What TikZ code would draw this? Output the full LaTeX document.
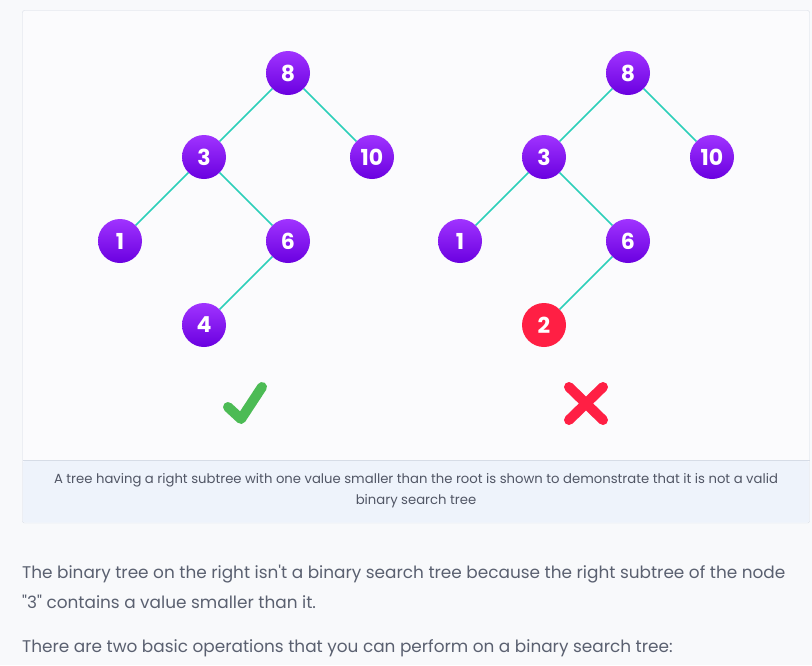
\documentclass[tikz,border=0pt]{standalone}
\usepackage{fontspec}
\setmainfont{Poppins}
\newfontfamily\captfont{Poppins}
\usepackage{xcolor}
\definecolor{pagebg}{HTML}{F8F9FB}
\definecolor{framebd}{HTML}{D6DCE6}
\definecolor{captbg}{HTML}{EEF3FB}
\definecolor{edgecol}{HTML}{2CCFB9}
\definecolor{violettop}{HTML}{A033FF}
\definecolor{violetbot}{HTML}{6A00E0}
\definecolor{badred}{HTML}{FF1F44}
\definecolor{okgreen}{HTML}{4CBB55}
\definecolor{textgray}{HTML}{5A6070}
\tikzset{
  key/.style={circle, minimum size=44pt, inner sep=0pt, text=white,
    top color=violettop, bottom color=violetbot, font=\fontsize{22}{22}\selectfont\bfseries},
  badkey/.style={circle, minimum size=44pt, inner sep=0pt, text=white,
    fill=badred, font=\fontsize{22}{22}\selectfont\bfseries},
  link/.style={edgecol, line width=1.6pt},
  signstroke/.style={line width=10pt, line cap=round, line join=round}
}

\begin{document}
\begin{tikzpicture}[x=1pt, y=-1pt]
\useasboundingbox[fill=pagebg] (0,0) rectangle (812,665);
% frame and caption
\draw[framebd, fill=pagebg!60!white, rounded corners=2pt] (22.5,10.5) rectangle (809.5,523);
\fill[captbg, rounded corners=2pt] (23,461) rectangle (809,522.5);
\draw[framebd] (22.5,460.5) -- (809.5,460.5);
%\draw[step=10, very thin, red!20] (0,0) grid (812,665);
% valid tree
    \node[key] (l8)  at (288,73)  {8};
    \node[key] (l3)  at (204,157) {3};
    \node[key] (l10) at (372,157) {10};
    \node[key] (l1)  at (120,241) {1};
    \node[key] (l6)  at (288,241) {6};
    \node[key] (l4)  at (204,325) {4};
% invalid tree
    \node[key] (r8)  at (628,73)  {8};
    \node[key] (r3)  at (544,157) {3};
    \node[key] (r10) at (712,157) {10};
    \node[key] (r1)  at (460,241) {1};
    \node[key] (r6)  at (628,241) {6};
    \node[badkey] (r2) at (544,325) {2};
    \foreach \t in {l,r}{
      \draw[link] (\t8) -- (\t3);
      \draw[link] (\t8) -- (\t10);
      \draw[link] (\t3) -- (\t1);
      \draw[link] (\t3) -- (\t6);
    }
    \draw[link] (l6) -- (l4);
    \draw[link] (r6) -- (r2);
% tick and cross
    \coordinate (ck1) at (228,407);
    \coordinate (ck2) at (241,419);
    \coordinate (ck3) at (262,387);
    \draw[signstroke, okgreen] (ck1) -- (ck2) -- (ck3);
    \coordinate (cr1) at (569,387);
    \coordinate (cr2) at (603,420);
    \coordinate (cr3) at (603,387);
    \coordinate (cr4) at (569,420);
    \draw[signstroke, badred] (cr1) -- (cr2) (cr3) -- (cr4);
% texts
    \node[text=textgray!90!black, align=center, font=\captfont\fontsize{13.2}{21}\selectfont] (caption) at (416,491)
      {A tree having a right subtree with one value smaller than the root is shown to demonstrate that it is not a valid\\binary search tree};
    \node[text=textgray, anchor=west, align=left, font=\captfont\fontsize{16.9}{30}\selectfont, inner sep=0pt] (para1) at (22,587)
      {The binary tree on the right isn't a binary search tree because the right subtree of the node\\"3" contains a value smaller than it.};
    \node[text=textgray, anchor=west, font=\captfont\fontsize{16.9}{30}\selectfont, inner sep=0pt] (para2) at (22,648)
      {There are two basic operations that you can perform on a binary search tree:};
\end{tikzpicture}
\end{document}
